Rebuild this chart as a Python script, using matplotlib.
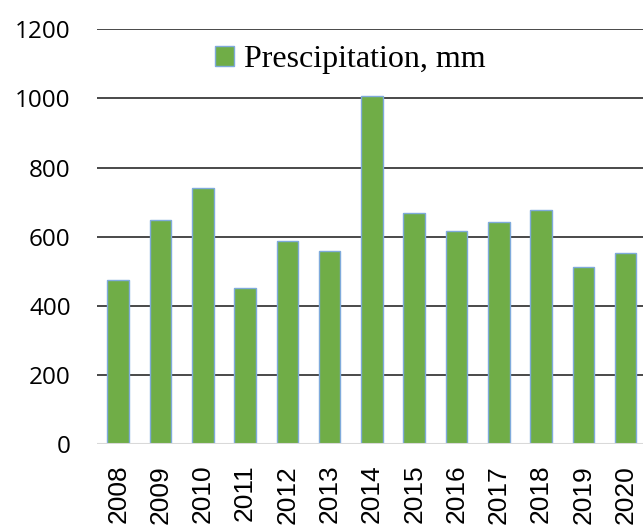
import matplotlib
matplotlib.use("Agg")
import matplotlib.pyplot as plt

years = ["2008", "2009", "2010", "2011", "2012", "2013", "2014",
         "2015", "2016", "2017", "2018", "2019", "2020"]
precip = [475, 648, 741, 450, 587, 559, 1008, 669, 617, 641, 676, 511, 553]
y_ticks = [0, 200, 400, 600, 800, 1000, 1200]

GREEN = "#70AD47"
EDGE = "#7FAADB"

fig = plt.figure(figsize=(6.43, 5.25), dpi=100)
ax = fig.add_axes([0.151, 0.1543, 0.849, 0.7899])

x = list(range(len(years)))
bars = ax.bar(x, precip, width=0.51, color=GREEN, edgecolor=EDGE,
              linewidth=1.0, zorder=3, label="Prescipitation, mm")

ax.set_xlim(-0.5, 12.41)
ax.set_ylim(0, 1200)
ax.set_yticks(y_ticks)
ax.set_yticklabels([str(v) for v in y_ticks], family="Open Sans", fontsize=17.5)
ax.set_xticks(x)
ax.set_xticklabels(years, rotation=90, family="Liberation Sans", fontsize=19,
                   va="top")
ax.tick_params(axis="y", length=0, pad=19)
ax.tick_params(axis="x", length=0, pad=15)

for v in y_ticks[1:]:
    ax.axhline(v, color="#3a3a3a", linewidth=1.3, zorder=1)
ax.axhline(0, color="#d9d9d9", linewidth=1.5, zorder=4)

for s in ax.spines.values():
    s.set_visible(False)

leg = ax.legend(loc="center", bbox_to_anchor=(350 / 643, 1 - 60 / 525),
                bbox_transform=fig.transFigure, frameon=False,
                prop={"family": "Liberation Serif", "size": 23},
                handlelength=0.6, handleheight=0.6, handletextpad=0.3)

fig.savefig("out.png", dpi=100, facecolor="white")
